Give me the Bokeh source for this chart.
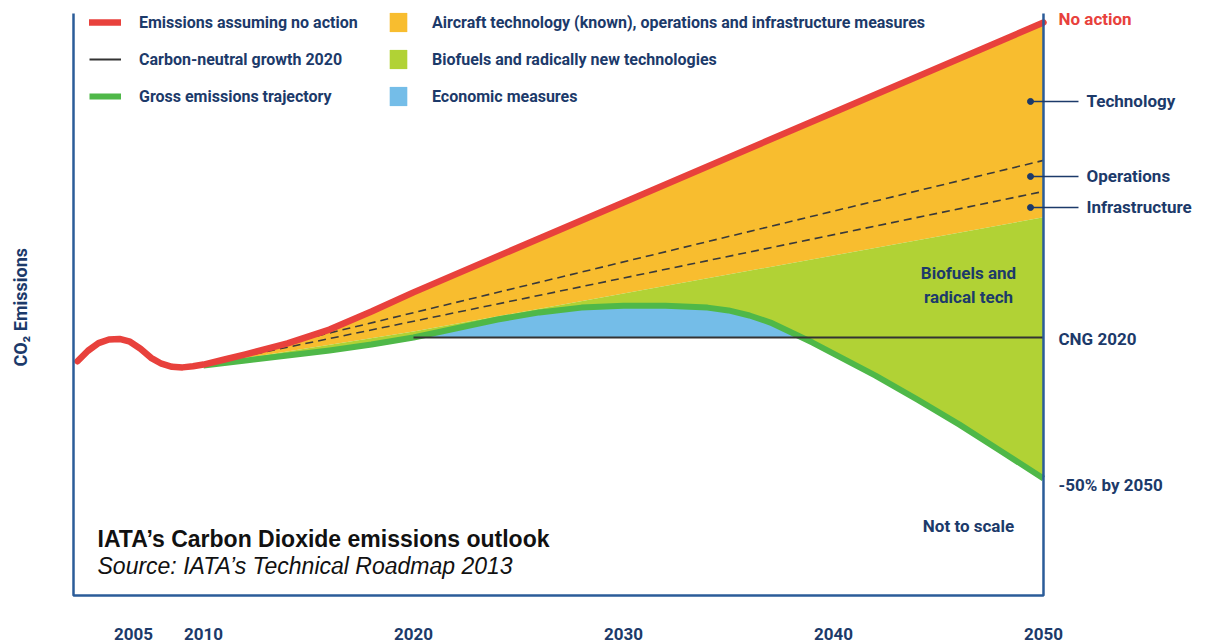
import math
from bokeh.plotting import figure
from bokeh.models import Range1d, FixedTicker, Legend, LegendItem, Label, Arrow
from bokeh.embed import file_html
from bokeh.resources import INLINE

# ---------------- data (index: carbon-neutral 2020 level = 100, "not to scale") ----------------
no_action_years = [2004.0, 2004.5, 2005.0, 2005.5, 2006.0, 2006.5, 2007.0, 2007.5, 2008.0,
                   2008.5, 2009.0, 2009.5, 2010, 2011, 2012, 2014, 2016, 2018, 2020, 2030, 2040, 2050]
no_action = [91.6, 95.3, 98.0, 99.3, 99.5, 98.5, 96.0, 92.8, 90.7,
             89.6, 89.4, 89.8, 90.4, 92.2, 94.0, 97.9, 102.8, 109.2, 116.0, 147.9, 179.8, 211.7]

measure_years = [2010, 2050]
after_technology = [90.8, 162.8]      # upper dashed line
after_operations = [90.4, 151.8]      # lower dashed line

infra_years = [2010, 2020, 2030, 2040, 2050]
after_infrastructure = [90.4, 102.1, 115.6, 129.1, 142.6]   # top of biofuels wedge

gross_years = [2010, 2012, 2014, 2016, 2018, 2020, 2022, 2024, 2026, 2028, 2030, 2032, 2034,
               2035, 2036, 2037, 2038, 2039, 2040, 2042, 2044, 2046, 2048, 2050]
gross = [90.1, 91.8, 93.6, 95.4, 97.5, 100.0, 103.2, 106.4, 108.9, 110.6, 111.3, 111.3, 110.6,
         109.6, 107.8, 105.3, 101.8, 98.2, 94.3, 86.5, 78.0, 69.1, 59.6, 50.0]

cng_years = [2020, 2050]
cng = [100, 100]

tick_labels = ["2005", "2010", "2020", "2030", "2040", "2050"]
tick_pos = [2006.67, 2010, 2020, 2030, 2040, 2050]

wedge_labels = ["Technology", "Operations", "Infrastructure"]
wedge_levels = [183.7, 157.1, 146.1]

# ---------------- style ----------------
RED = "#e8413c"
ORANGE = "#f8bd2f"
LGREEN = "#b1d235"
GREEN = "#4fb848"
BLUE = "#74bde8"
NAVY = "#1c3a6a"
FRAME = "#2b5c99"
COND = "Roboto"
SANS = "Liberation Sans"

W, H = 1207, 643
BOTTOM = 44                      # room for the year labels
PX_PER_YEAR = 21.0
PX_PER_UNIT = 2.82
# chart box (frame lines) in data units
XL, XR = 2003.81, 2050
YB, YT = 8.51, 214.9
# visible ranges: whole canvas width, box bottom 4px above the plot-area bottom
x_start = XL - 73 / PX_PER_YEAR
x_end = x_start + W / PX_PER_YEAR
y_start = YB - 4 / PX_PER_UNIT
y_end = y_start + (H - BOTTOM) / PX_PER_UNIT

p = figure(width=W, height=H, output_backend="svg", toolbar_location=None,
           x_range=Range1d(x_start, x_end), y_range=Range1d(y_start, y_end),
           min_border_left=0, min_border_right=0, min_border_top=0, min_border_bottom=BOTTOM)
p.outline_line_color = None
p.grid.visible = False
p.yaxis.visible = False
p.background_fill_color = "white"
p.border_fill_color = "white"

# wedges
i10 = no_action_years.index(2010)
r_orange = p.patch(no_action_years[i10:] + infra_years[::-1],
                   no_action[i10:] + after_infrastructure[::-1],
                   fill_color=ORANGE, line_color=None)
r_lgreen = p.patch(infra_years + gross_years[::-1],
                   after_infrastructure + gross[::-1],
                   fill_color=LGREEN, line_color=None)

# economic measures wedge: gross above the CNG level
bx, by = [], []
for k in range(len(gross_years)):
    if gross_years[k] >= cng_years[0] and gross[k] >= cng[0]:
        bx.append(gross_years[k]); by.append(gross[k])
        if k + 1 < len(gross) and gross[k + 1] < cng[0]:
            t = (gross[k] - cng[0]) / (gross[k] - gross[k + 1])
            bx.append(gross_years[k] + t * (gross_years[k + 1] - gross_years[k])); by.append(cng[0])
r_blue = p.patch(bx + [bx[0]], by + [cng[0]], fill_color=BLUE, line_color=None)

# dashed measure lines
p.line(measure_years, after_technology, line_color="#3a3a3a", line_width=1.6, line_dash="8 5")
p.line(measure_years, after_operations, line_color="#3a3a3a", line_width=1.6, line_dash="8 5")

r_green = p.line(gross_years, gross, line_color=GREEN, line_width=6, line_join="round")
r_cng = p.line(cng_years, cng, line_color="#333333", line_width=1.8)
r_red = p.line(no_action_years, no_action, line_color=RED, line_width=6.5, line_join="round",
               line_cap="round")

# chart box: left, bottom, right
p.line([XL, XL, XR, XR], [YT, YB, YB, YT], line_color=FRAME, line_width=2.5)

# ---------------- x axis (labels only) ----------------
p.xaxis.ticker = FixedTicker(ticks=tick_pos, minor_ticks=[])
p.xaxis.major_label_overrides = {tp: tl for tp, tl in zip(tick_pos, tick_labels)}
p.xaxis.major_tick_line_color = None
p.xaxis.minor_tick_line_color = None
p.xaxis.axis_line_color = None
p.xaxis.major_label_text_font = COND
p.xaxis.major_label_text_font_style = "bold"
p.xaxis.major_label_text_font_size = "17px"
p.xaxis.major_label_text_color = NAVY
p.xaxis.major_label_standoff = 22

# ---------------- legends ----------------
common = dict(orientation="vertical", glyph_height=24, label_height=24, spacing=13,
              padding=0, margin=0, border_line_color=None, background_fill_alpha=0,
              label_text_font=COND, label_text_font_style="bold",
              label_text_font_size="16px", label_text_color=NAVY)
leg1 = Legend(items=[LegendItem(label="Emissions assuming no action", renderers=[r_red]),
                     LegendItem(label="Carbon-neutral growth 2020", renderers=[r_cng]),
                     LegendItem(label="Gross emissions trajectory", renderers=[r_green])],
              location=(89, 491), glyph_width=32, label_standoff=18, **common)
leg2 = Legend(items=[LegendItem(label="Aircraft technology (known), operations and infrastructure measures",
                                renderers=[r_orange]),
                     LegendItem(label="Biofuels and radically new technologies", renderers=[r_lgreen]),
                     LegendItem(label="Economic measures", renderers=[r_blue])],
              location=(387, 491), glyph_width=22, label_standoff=23, **common)
p.add_layout(leg1)
p.add_layout(leg2)

# ---------------- annotations ----------------
def lab(text, x, y, xo=0, yo=0, color=NAVY, font=COND, size="17px", style="bold",
        align="left", baseline="middle", angle=0.0):
    p.add_layout(Label(x=x, y=y, x_offset=xo, y_offset=yo, text=text, text_color=color,
                       text_font=font, text_font_size=size, text_font_style=style,
                       text_align=align, text_baseline=baseline, angle=angle))

lab("No action", XR, no_action[-1], xo=15, yo=4, color=RED)
lab("CNG 2020", XR, cng[-1], xo=15, yo=-2)
lab("-50% by 2050", XR, gross[-1], xo=15, yo=-7)

dot_x = XR - 13 / PX_PER_YEAR
lead_end = XR + 35 / PX_PER_YEAR
p.scatter([dot_x] * 3, wedge_levels, size=6, color=NAVY)
for name, lv in zip(wedge_labels, wedge_levels):
    p.add_layout(Arrow(end=None, start=None, x_start=dot_x, y_start=lv, x_end=lead_end, y_end=lv,
                       line_color=NAVY, line_width=1.5))
    lab(name, XR, lv, xo=43)

bio_x = XR - 75 / PX_PER_YEAR
lab("Biofuels and", bio_x, 122.7, align="center")
lab("radical tech", bio_x, 114.2, align="center")
lab("Not to scale", bio_x, 33.3, align="center")

lab("IATA\u2019s Carbon Dioxide emissions outlook", XL, 28.7, xo=24, color="#111111",
    font=SANS, size="23px", style="bold")
lab("Source: IATA\u2019s Technical Roadmap 2013", XL, 19.1, xo=24, color="#111111",
    font=SANS, size="23px", style="italic")

lab("CO\u2082 Emissions", XL, (YB + YT) / 2 - 1, xo=-53, size="18px", align="center",
    angle=math.pi / 2)

open("out.html", "w").write(file_html(p, INLINE))
